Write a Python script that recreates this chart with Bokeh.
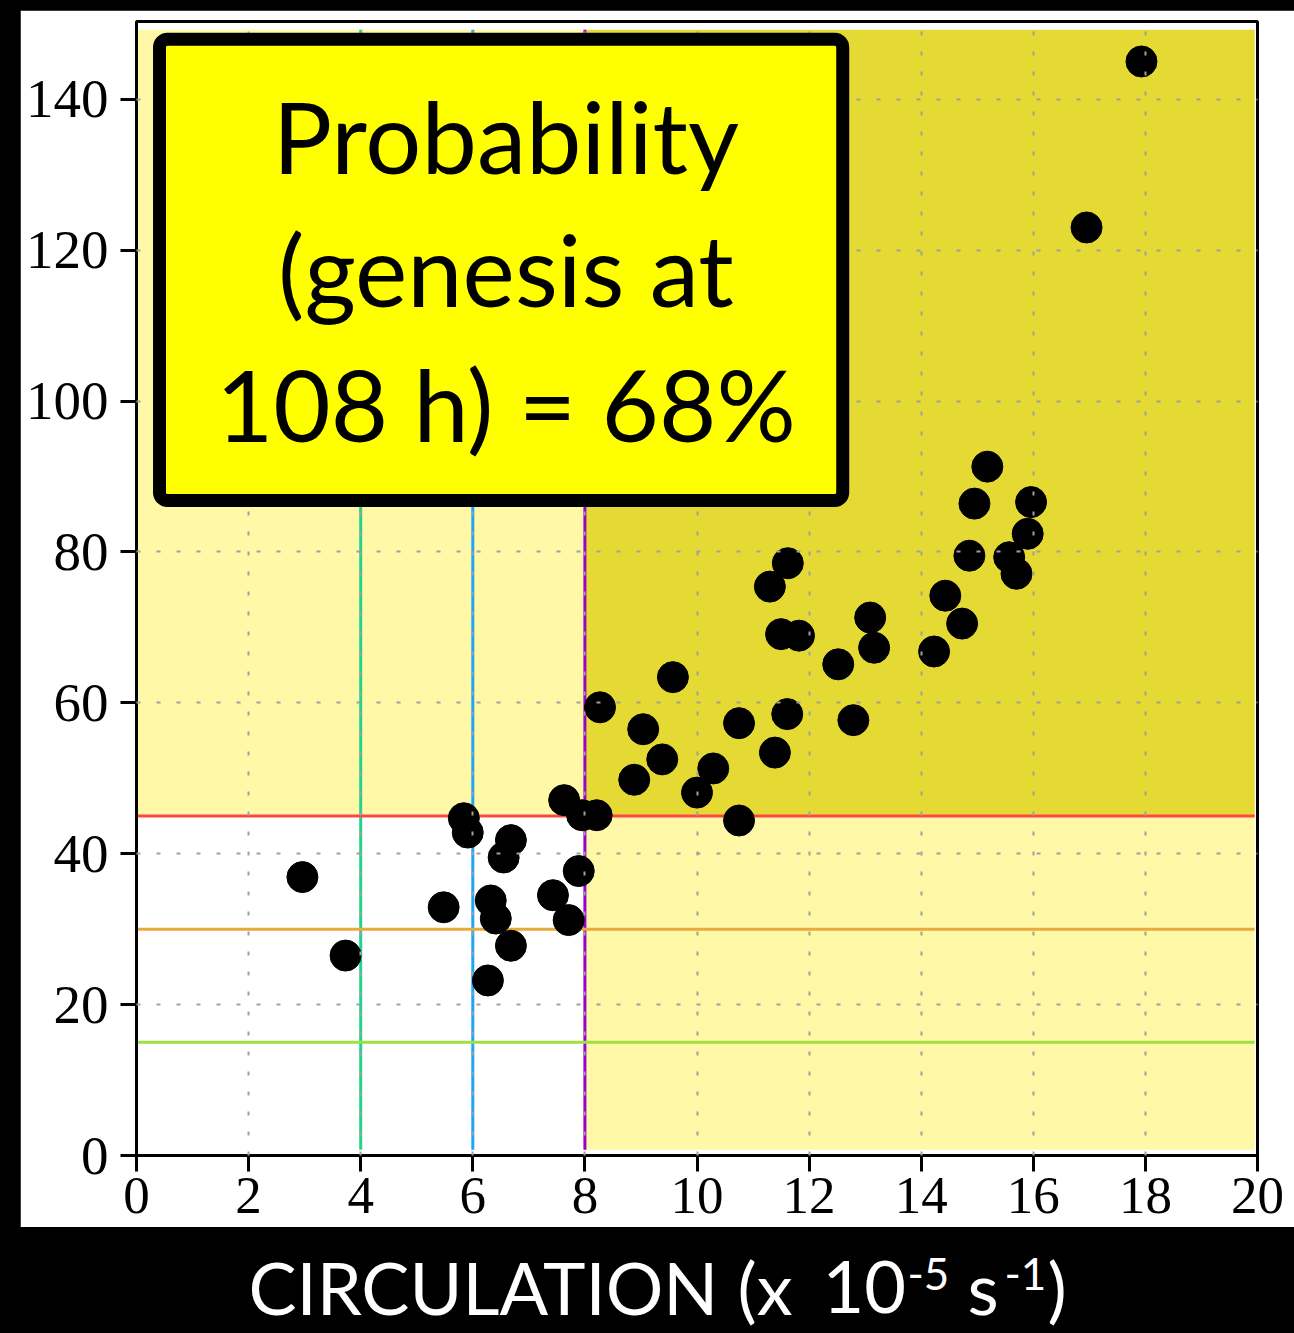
from bokeh.plotting import figure
from bokeh.models import Range1d, FixedTicker, BoxAnnotation, Label
from bokeh.layouts import column
from bokeh.embed import file_html
from bokeh.resources import INLINE

# ---------------- data ----------------
circulation = [17.93, 16.95, 15.18, 14.95, 15.96, 15.90, 14.86, 15.57, 15.70,
               11.62, 11.30, 11.50, 11.82, 14.43, 14.73, 14.23, 13.09, 13.16,
               12.52, 9.57, 8.27, 9.04, 9.38, 8.88, 10.75, 11.61, 11.39, 12.79,
               10.29, 10.00, 10.75, 8.21, 7.95, 7.63, 7.89, 7.43, 7.71, 5.84,
               5.91, 6.68, 6.55, 6.32, 6.41, 6.68, 6.27, 5.48, 2.96, 3.73]
y_values = [145.0, 123.0, 91.3, 86.4, 86.6, 82.4, 79.5, 79.3, 77.1,
            78.5, 75.4, 69.1, 68.9, 74.2, 70.5, 66.8, 71.3, 67.3,
            65.1, 63.4, 59.4, 56.5, 52.5, 49.8, 57.3, 58.5, 53.4, 57.7,
            51.3, 48.1, 44.4, 45.1, 45.1, 47.1, 37.7, 34.5, 31.2, 44.7,
            42.8, 41.8, 39.5, 33.8, 31.4, 27.8, 23.2, 32.9, 36.9, 26.5]

circ_thresholds = [4, 6, 8]
circ_colors = ["#22D38C", "#1EA5F5", "#9B00CC"]
y_thresholds = [15, 30, 45]
y_colors = ["#9EE040", "#E8AA3A", "#FF4646"]
circ_split = 8
y_split = 45

x_ticks = [0, 2, 4, 6, 8, 10, 12, 14, 16, 18, 20]
y_ticks = [0, 20, 40, 60, 80, 100, 120, 140]
x_grid = [2, 4, 6, 8, 10, 12, 14, 16, 18]
y_grid = [20, 40, 60, 80, 100, 120, 140]

box_lines = ["Probability", "(genesis at", "108 h) = 68%"]

# plot extents
X_LO, X_HI = 0, 20
Y_LO, Y_HI = 0, 150.3
SH_X_HI = 19.95
SH_Y_LO, SH_Y_HI = 0.75, 149.2

LIGHT = "#FFF8A6"
DARK = "#E5DA33"

# ---------------- main figure ----------------
p = figure(width=1274, height=1217,
           x_range=Range1d(X_LO, X_HI), y_range=Range1d(Y_LO, Y_HI),
           output_backend="svg", toolbar_location=None,
           min_border_left=116, min_border_right=37,
           min_border_top=11, min_border_bottom=72,
           border_fill_color="white", background_fill_color="white",
           outline_line_color="black", outline_line_width=3,
           margin=(10, 0, 0, 20))

# shaded regions
p.quad(left=[X_LO, circ_split], right=[circ_split, SH_X_HI],
       bottom=[y_split, SH_Y_LO], top=[SH_Y_HI, y_split],
       fill_color=LIGHT, line_color=None)
p.quad(left=[circ_split], right=[SH_X_HI], bottom=[y_split], top=[SH_Y_HI],
       fill_color=DARK, line_color=None)

# threshold lines
p.segment(x0=circ_thresholds, y0=[SH_Y_LO] * 3, x1=circ_thresholds, y1=[SH_Y_HI] * 3,
          line_color=circ_colors, line_width=3)
p.segment(x0=[X_LO] * 3, y0=y_thresholds, x1=[SH_X_HI] * 3, y1=y_thresholds,
          line_color=y_colors, line_width=3)

# points
p.scatter(circulation, y_values, size=31, color="black")

# grid
p.xgrid.ticker = FixedTicker(ticks=x_grid)
p.ygrid.ticker = FixedTicker(ticks=y_grid)
for g in (p.xgrid, p.ygrid):
    g.grid_line_color = "#A0A0A0"
    g.grid_line_dash = "4 16"
    g.grid_line_width = 2
    g.level = "annotation"

# axes
p.xaxis.ticker = FixedTicker(ticks=x_ticks)
p.yaxis.ticker = FixedTicker(ticks=y_ticks)
for ax in (p.xaxis, p.yaxis):
    ax.axis_line_color = "black"
    ax.axis_line_width = 3
    ax.major_tick_line_color = "black"
    ax.major_tick_line_width = 3
    ax.major_tick_out = 16
    ax.major_tick_in = 0
    ax.minor_tick_line_color = None
    ax.major_label_text_font = "Liberation Serif"
    ax.major_label_text_color = "black"
p.xaxis.major_label_text_font_size = "53px"
p.yaxis.major_label_text_font_size = "55px"
p.xaxis.major_label_standoff = 6
p.yaxis.major_label_standoff = 12

# text box
box = BoxAnnotation(left=0.41, right=12.60, top=147.95, bottom=86.83,
                    fill_color="#FFFF00", fill_alpha=1.0,
                    line_color="black", line_width=13, line_alpha=1.0,
                    border_radius=8, level="overlay")
p.add_layout(box)
for txt, yb in zip(box_lines, [135.17, 117.6, 99.69]):
    p.add_layout(Label(x=6.59, y=yb, text=txt, text_align="center",
                       text_baseline="alphabetic", text_font="Lato",
                       text_font_size="99px", text_color="black", level="overlay"))

# ---------------- x-axis title figure ----------------
# x range expressed in page pixels of the frame (aligned with the main frame)
p2 = figure(width=1294, height=106, x_range=Range1d(116, 1257), y_range=Range1d(106, 0),
            output_backend="svg", toolbar_location=None,
            x_axis_location=None, y_axis_location=None,
            min_border_left=116, min_border_right=37, min_border_top=0, min_border_bottom=0,
            border_fill_color="black", background_fill_color="black",
            outline_line_color=None)
p2.grid.visible = False
title_parts = [("CIRCULATION", 248, 59, "72px"),
               ("(x", 737, 59, "72px"),
               ("10", 822, 59, "72px"),
               ("-5", 907, 46, "44px"),
               ("s", 967, 59, "72px"),
               ("-1", 1004, 46, "44px"),
               (")", 1047, 59, "72px")]
for txt, xx, yy, fs in title_parts:
    p2.add_layout(Label(x=xx, y=yy, text=txt, text_align="left",
                        text_baseline="alphabetic", text_font="Lato",
                        text_font_size=fs, text_color="white"))

layout = column(p, p2, spacing=0, styles={"background-color": "black"})
open("out.html", "w").write(file_html(layout, INLINE))
